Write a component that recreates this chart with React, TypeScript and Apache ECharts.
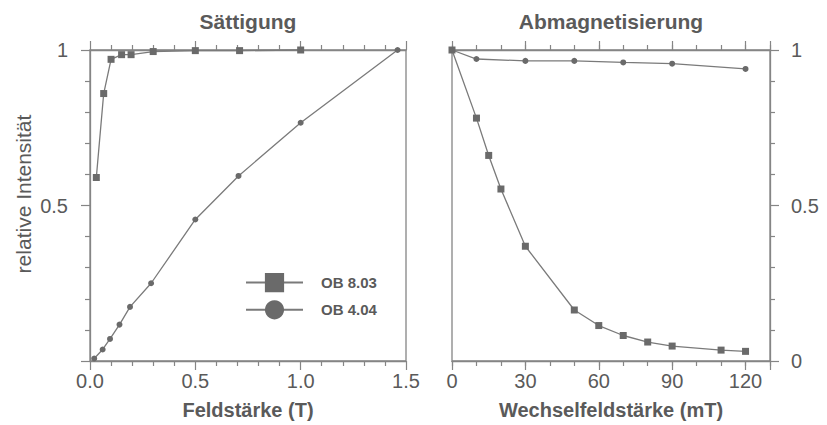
import React, { useEffect, useRef } from "react";
import * as echarts from "echarts";

// Sättigung (left panel)
const satX_OB803 = [0.03, 0.065, 0.1, 0.15, 0.195, 0.3, 0.5, 0.71, 1.0];
const satY_OB803 = [0.59, 0.86, 0.97, 0.985, 0.985, 0.995, 0.998, 0.998, 1.0];
const satX_OB404 = [0.02, 0.06, 0.095, 0.14, 0.19, 0.29, 0.5, 0.705, 1.0, 1.46];
const satY_OB404 = [0.008, 0.037, 0.071, 0.117, 0.174, 0.25, 0.455, 0.595, 0.766, 1.0];

// Abmagnetisierung (right panel)
const demX_OB803 = [0, 10, 15, 20, 30, 50, 60, 70, 80, 90, 110, 120];
const demY_OB803 = [1.0, 0.781, 0.661, 0.553, 0.369, 0.164, 0.114, 0.082, 0.061, 0.048, 0.035, 0.031];
const demX_OB404 = [0, 10, 30, 50, 70, 90, 120];
const demY_OB404 = [1.0, 0.971, 0.965, 0.965, 0.96, 0.956, 0.939];

const seriesNames = ["OB 8.03", "OB 4.04"];
const titles = ["Sättigung", "Abmagnetisierung"];
const xNames = ["Feldstärke (T)", "Wechselfeldstärke (mT)"];
const yName = "relative Intensität";

const FONT = "'Liberation Sans', Arial, sans-serif";
const TEXT = "#5a5a5a";
const AXIS = "#858585";
const LINE = "#7a7a7a";
const MARK = "#6a6a6a";

const zip = (xs: number[], ys: number[]) => xs.map((x, i) => [x, ys[i]]);

export default function App() {
  const ref = useRef<HTMLDivElement>(null);
  useEffect(() => {
    document.body.style.margin = "0";
    const chart = echarts.init(ref.current!, null, { renderer: "svg" });
    const axisLine = { show: true, onZero: false, lineStyle: { color: AXIS, width: 1.3 } };
    const noLine = { show: false, onZero: false };
    const tickMajor = { show: true, length: 9, lineStyle: { color: AXIS, width: 1.2 } };
    const tickMinor = { show: true, length: 5, lineStyle: { color: AXIS, width: 1.2 } };
    const label = { color: TEXT, fontSize: 20, fontFamily: FONT };
    const noLabel = { show: false };
    const nameStyle = { color: TEXT, fontSize: 20, fontWeight: "bold" as const, fontFamily: FONT };

    const lineSeries = (name: string, data: number[][], xi: number, yi: number, sym: string, size: number) => ({
      type: "line",
      name,
      data,
      xAxisIndex: xi,
      yAxisIndex: yi,
      symbol: sym,
      symbolSize: size,
      showSymbol: true,
      itemStyle: { color: MARK },
      lineStyle: { color: LINE, width: 1.3 },
      clip: false,
    });

    const gridBox = { show: true, borderColor: AXIS, borderWidth: 1.3, backgroundColor: "transparent" };

    chart.setOption({
      animation: false,
      backgroundColor: "#ffffff",
      grid: [
        { left: 90, top: 50, width: 316, height: 317, ...gridBox },
        { left: 452, top: 50, width: 318, height: 317, ...gridBox },
      ],
      graphic: [
        {
          type: "text",
          x: 248,
          y: 11,
          style: { text: titles[0], fill: TEXT, font: `bold 21px ${FONT}`, textAlign: "center", textVerticalAlign: "top" },
        },
        {
          type: "text",
          x: 611,
          y: 11,
          style: { text: titles[1], fill: TEXT, font: `bold 21px ${FONT}`, textAlign: "center", textVerticalAlign: "top" },
        },
        {
          type: "text",
          x: 23,
          y: 194,
          rotation: Math.PI / 2,
          style: { text: yName, fill: TEXT, font: `21px ${FONT}`, textAlign: "center", textVerticalAlign: "middle" },
        },
      ],
      legend: {
        data: seriesNames,
        orient: "vertical",
        left: 240,
        top: 268,
        itemWidth: 57,
        itemHeight: 24,
        itemGap: 8,
        textStyle: { color: TEXT, fontSize: 15, fontWeight: "bold", fontFamily: FONT, padding: [0, 0, 0, 13] },
      },
      xAxis: [
        {
          gridIndex: 0,
          type: "value",
          position: "bottom",
          min: 0,
          max: 1.5,
          interval: 0.5,
          axisLine,
          axisTick: tickMajor,
          minorTick: { ...tickMinor, splitNumber: 5 },
          splitLine: { show: false },
          axisLabel: { ...label, margin: 10, formatter: (v: number) => v.toFixed(1) },
          name: xNames[0],
          nameLocation: "middle",
          nameGap: 39,
          nameTextStyle: nameStyle,
        },
        {
          gridIndex: 0,
          type: "value",
          position: "top",
          min: 0,
          max: 1.5,
          interval: 0.5,
          axisLine,
          axisTick: tickMajor,
          minorTick: { ...tickMinor, splitNumber: 5 },
          splitLine: { show: false },
          axisLabel: noLabel,
        },
        {
          gridIndex: 1,
          type: "value",
          position: "bottom",
          min: 0,
          max: 130,
          interval: 30,
          axisLine,
          axisTick: tickMajor,
          splitLine: { show: false },
          axisLabel: { ...label, margin: 10, formatter: (v: number) => (v > 125 ? "" : String(v)) },
          name: xNames[1],
          nameLocation: "middle",
          nameGap: 39,
          nameTextStyle: nameStyle,
        },
        {
          gridIndex: 1,
          type: "value",
          position: "bottom",
          min: 0,
          max: 130,
          interval: 10,
          axisLine: noLine,
          axisTick: tickMinor,
          splitLine: { show: false },
          axisLabel: noLabel,
        },
        {
          gridIndex: 1,
          type: "value",
          position: "top",
          min: 0,
          max: 130,
          interval: 30,
          axisLine,
          axisTick: tickMajor,
          splitLine: { show: false },
          axisLabel: noLabel,
        },
        {
          gridIndex: 1,
          type: "value",
          position: "top",
          min: 0,
          max: 130,
          interval: 10,
          axisLine: noLine,
          axisTick: tickMinor,
          splitLine: { show: false },
          axisLabel: noLabel,
        },
      ],
      yAxis: [
        {
          gridIndex: 0,
          type: "value",
          position: "left",
          min: 0,
          max: 1,
          interval: 0.5,
          axisLine,
          axisTick: tickMajor,
          minorTick: { ...tickMinor, splitNumber: 5 },
          splitLine: { show: false },
          axisLabel: { ...label, margin: 22, formatter: (v: number) => (v === 0 ? "" : String(v)) },
        },
        {
          gridIndex: 1,
          type: "value",
          position: "right",
          min: 0,
          max: 1,
          interval: 0.5,
          axisLine,
          axisTick: tickMajor,
          minorTick: { ...tickMinor, splitNumber: 5 },
          splitLine: { show: false },
          axisLabel: { ...label, margin: 21, formatter: (v: number) => String(v) },
        },
      ],
      series: [
        lineSeries(seriesNames[0], zip(satX_OB803, satY_OB803), 0, 0, "rect", 7),
        lineSeries(seriesNames[1], zip(satX_OB404, satY_OB404), 0, 0, "circle", 6),
        lineSeries(seriesNames[0], zip(demX_OB803, demY_OB803), 2, 1, "rect", 7),
        lineSeries(seriesNames[1], zip(demX_OB404, demY_OB404), 2, 1, "circle", 6),
      ],
    });
    return () => chart.dispose();
  }, []);
  return <div ref={ref} style={{ width: 827, height: 425 }} />;
}
